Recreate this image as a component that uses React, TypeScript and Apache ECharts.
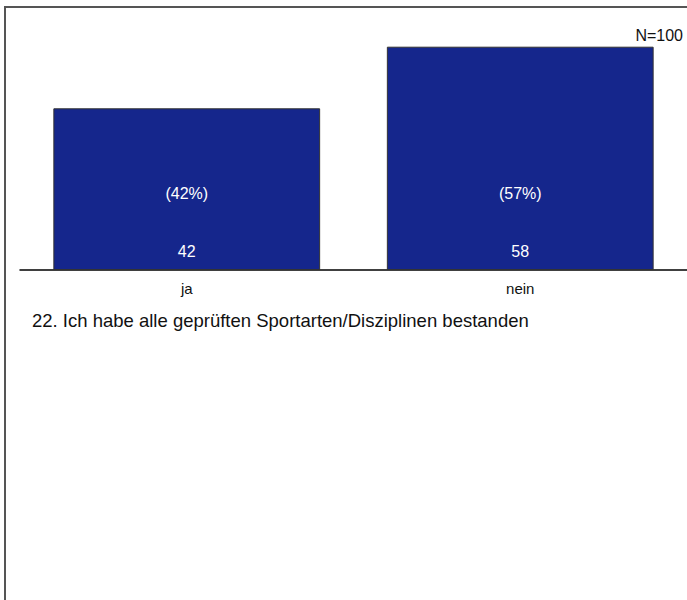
import React, { useEffect, useRef } from "react";
import * as echarts from "echarts";

const categories = ["ja", "nein"];
const counts = [42, 58];
const percentLabels = ["(42%)", "(57%)"];
const titleText = "22. Ich habe alle geprüften Sportarten/Disziplinen bestanden";
const nText = "N=100";

export default function App() {
  const ref = useRef<HTMLDivElement>(null);
  useEffect(() => {
    document.body.style.margin = "0";
    const chart = echarts.init(ref.current!, null, { renderer: "svg" });
    const font = "'Liberation Sans', Arial, sans-serif";
    chart.setOption({
      animation: false,
      grid: { left: 20, right: 0, top: 39, height: 231 },
      xAxis: {
        type: "category",
        data: categories,
        axisLine: { lineStyle: { color: "#000", width: 1.5 } },
        axisTick: { inside: true, length: 4, alignWithLabel: true, lineStyle: { color: "#000" } },
        axisLabel: { color: "#111", fontSize: 15, fontFamily: font, margin: 11 },
      },
      yAxis: {
        type: "value",
        min: 0,
        max: 60,
        show: false,
        splitLine: { show: false },
      },
      series: [
        {
          type: "bar",
          data: counts,
          barCategoryGap: "20%",
          barGap: "-100%",
          itemStyle: { color: "#15268C", borderColor: "#333", borderWidth: 1 },
          label: {
            show: true,
            position: "insideBottom",
            distance: 11,
            color: "#fff",
            fontSize: 16,
            fontFamily: font,
          },
          z: 2,
        },
        {
          type: "bar",
          data: counts,
          barCategoryGap: "20%",
          barGap: "-100%",
          itemStyle: { color: "transparent" },
          label: {
            show: true,
            position: "insideBottom",
            distance: 69,
            color: "#fff",
            fontSize: 16,
            fontFamily: font,
            formatter: (p: any) => percentLabels[p.dataIndex],
          },
          z: 3,
        },
      ],
      graphic: [
        { type: "line", shape: { x1: 4, y1: 7, x2: 687, y2: 7 }, style: { stroke: "#555", lineWidth: 2 } },
        { type: "line", shape: { x1: 5, y1: 6, x2: 5, y2: 600 }, style: { stroke: "#555", lineWidth: 2 } },
        {
          type: "text",
          left: 32,
          top: 311,
          style: { text: titleText, fontSize: 18.5, fontFamily: font, fill: "#111" },
        },
        {
          type: "text",
          right: 4,
          top: 27,
          style: { text: nText, fontSize: 16, fontFamily: font, fill: "#111" },
        },
      ],
    });
    return () => chart.dispose();
  }, []);
  return <div ref={ref} style={{ width: 687, height: 600 }} />;
}
